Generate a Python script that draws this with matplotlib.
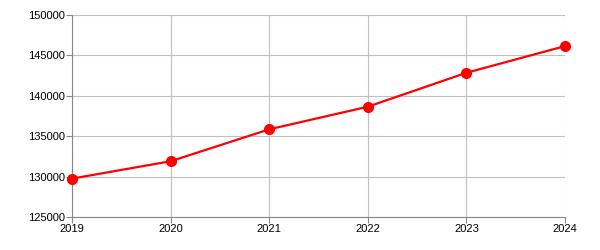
import matplotlib
matplotlib.use("Agg")
import matplotlib.pyplot as plt

years = [2019, 2020, 2021, 2022, 2023, 2024]
values = [129750, 131900, 135850, 138650, 142850, 146150]
y_ticks = [125000, 130000, 135000, 140000, 145000, 150000]

plt.rcParams['font.family'] = ['Liberation Sans', 'DejaVu Sans']

fig = plt.figure(figsize=(6, 2.5), dpi=100)
ax = fig.add_axes([0.12, 0.132, 0.8217, 0.808])

ax.plot(years, values, color="#ff0000", linewidth=1.6, marker="o",
        markersize=7, zorder=3, clip_on=False)

ax.set_xlim(2019, 2024)
ax.set_ylim(125000, 150000)
ax.set_xticks(years)
ax.set_yticks(y_ticks)
ax.set_xticklabels([str(y) for y in years])
ax.set_yticklabels([str(v) for v in y_ticks])

# Rejilla gris clara
ax.grid(True, color="#c0c0c0", linewidth=0.8)
ax.set_axisbelow(True)
for s in ["top", "right"]:
    ax.spines[s].set_visible(False)
for s in ["left", "bottom"]:
    ax.spines[s].set_color("#888888")
    ax.spines[s].set_linewidth(0.8)
ax.tick_params(axis="both", labelsize=8, length=4, width=0.8,
               color="#888888", pad=1, labelcolor="black")

fig.savefig("out.png", dpi=100)
